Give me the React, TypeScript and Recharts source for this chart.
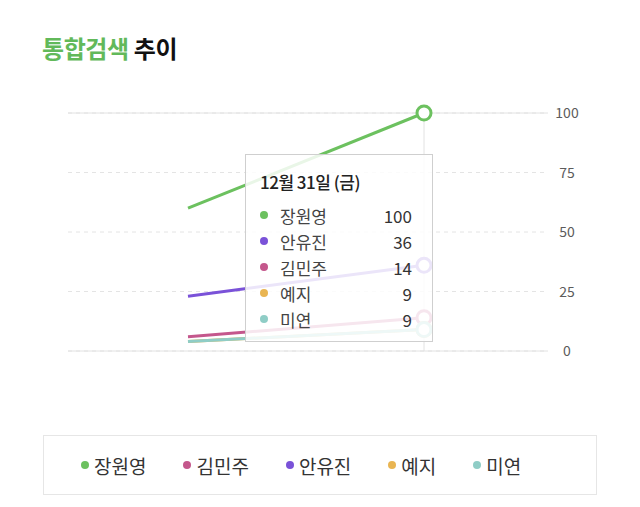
import React from "react";
import { LineChart, Line, XAxis, YAxis, CartesianGrid, Tooltip, Legend, ReferenceLine } from "recharts";

const DAYS = ["12월 30일 (목)", "12월 31일 (금)"];

const SERIES = [
  { key: "jang", name: "장원영", color: "#6cc15f" },
  { key: "kim", name: "김민주", color: "#c4578c" },
  { key: "ahn", name: "안유진", color: "#7a52d8" },
  { key: "yeji", name: "예지", color: "#e9b552" },
  { key: "miyeon", name: "미연", color: "#8fcdc6" },
];

const JANG = [60, 100];
const KIM = [6, 14];
const AHN = [23, 36];
const YEJI = [4, 9];
const MIYEON = [4, 9];

const Y_TICKS = [0, 25, 50, 75, 100];

const data = DAYS.map((day, i) => ({
  day,
  jang: JANG[i],
  kim: KIM[i],
  ahn: AHN[i],
  yeji: YEJI[i],
  miyeon: MIYEON[i],
}));

const FONT = "'Noto Sans CJK KR', 'Noto Sans', sans-serif";

function RightTick(props: any) {
  const { x, y, payload } = props;
  return (
    <text x={x + 11} y={y} dy={5} textAnchor="middle" fontSize={14} fill="#5c5c5c" fontFamily={FONT}>
      {payload.value}
    </text>
  );
}

function TipBox({ active, payload, label }: any) {
  if (!active || !payload || !payload.length) return null;
  const rows = [...payload].sort((a: any, b: any) => b.value - a.value);
  return (
    <div
      style={{
        width: 188,
        height: 188,
        boxSizing: "border-box",
        background: "rgba(255,255,255,0.85)",
        border: "1px solid #cfcfcf",
        padding: "14px 20px 0 14px",
        fontFamily: FONT,
      }}
    >
      <div style={{ fontSize: 17, fontWeight: 500, color: "#222", letterSpacing: -0.5, marginBottom: 8 }}>{label}</div>
      {rows.map((r: any) => (
        <div key={r.dataKey} style={{ display: "flex", alignItems: "center", height: 26, fontSize: 17, color: "#444" }}>
          <span style={{ width: 8, height: 8, borderRadius: 4, background: r.color, marginRight: 12 }} />
          <span style={{ flex: 1 }}>{r.name}</span>
          <span style={{ color: "#333" }}>{r.value}</span>
        </div>
      ))}
    </div>
  );
}

function LegendBox() {
  return (
    <div
      style={{
        width: 554,
        height: 60,
        boxSizing: "border-box",
        border: "1px solid #e6e6e6",
        display: "flex",
        alignItems: "center",
        gap: 37,
        paddingLeft: 37,
        fontFamily: FONT,
      }}
    >
      {SERIES.map((s) => (
        <div key={s.key} style={{ display: "flex", alignItems: "center", fontSize: 19, color: "#333" }}>
          <span style={{ width: 8, height: 8, borderRadius: 4, background: s.color, marginRight: 5 }} />
          {s.name}
        </div>
      ))}
    </div>
  );
}

export default function App() {
  return (
    <div style={{ position: "absolute", left: 0, top: 0, width: 640, height: 507, background: "#fff", fontFamily: FONT }}>
      <div style={{ position: "absolute", left: 42, top: 30, fontSize: 24, fontWeight: 700, letterSpacing: -0.4 }}>
        <span style={{ color: "#62b95a" }}>통합검색</span> <span style={{ color: "#111" }}>추이</span>
      </div>
      <LineChart width={640} height={507} data={data} margin={{ top: 113, right: 0, bottom: 96, left: 68 }}>
        <CartesianGrid vertical={false} stroke="#e4e4e4" strokeDasharray="4 4" />
        <ReferenceLine y={100} stroke="#e2e2e2" />
        <ReferenceLine y={0} stroke="#e2e2e2" />
        <XAxis dataKey="day" hide padding={{ left: 120, right: 124 }} />
        <YAxis
          orientation="right"
          width={92}
          domain={[0, 100]}
          ticks={Y_TICKS}
          axisLine={false}
          tickLine={false}
          tick={<RightTick />}
        />
        {SERIES.map((s) => (
          <Line
            key={s.key}
            type="linear"
            dataKey={s.key}
            name={s.name}
            stroke={s.color}
            strokeWidth={3}
            dot={false}
            activeDot={{ r: 7, fill: "#fff", stroke: s.color, strokeWidth: 3 }}
            isAnimationActive={false}
          />
        ))}
        <Tooltip
          defaultIndex={1}
          content={<TipBox />}
          position={{ x: 245, y: 154 }}
          cursor={{ stroke: "#e2e2e2", strokeWidth: 1 }}
          isAnimationActive={false}
        />
        <Legend
          content={<LegendBox />}
          wrapperStyle={{ position: "absolute", left: 43, top: 435, width: 554, bottom: "auto" }}
        />
      </LineChart>
    </div>
  );
}
